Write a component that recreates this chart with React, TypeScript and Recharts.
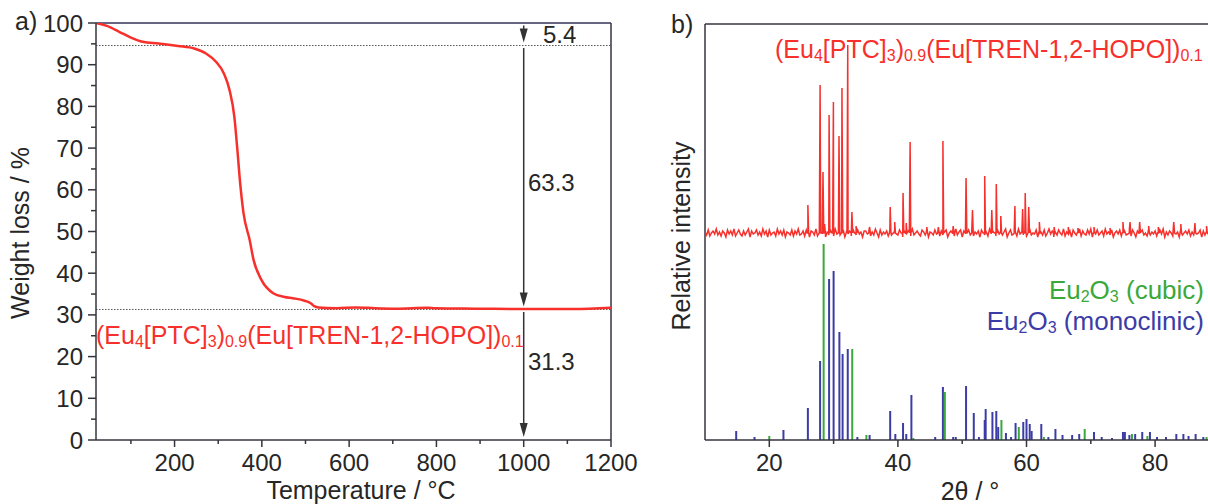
import React from 'react';
import { LineChart, ComposedChart, Line, XAxis, YAxis, ReferenceLine } from 'recharts';

const FONT = "'Liberation Sans', Arial, Helvetica, sans-serif";
const AXIS = '#34343c';
const TEXT = '#262626';
const RED = '#f7302c';
const GREEN = '#3aa83a';
const BLUE = '#3c3ca6';

// ---------- Panel a: TGA ----------
const tgaTemp = [20, 45, 73, 100, 127, 163, 208, 245, 272, 295, 313, 326, 337, 344, 349, 358, 372, 381, 399, 426, 452, 471, 498, 512, 520, 530, 571, 616, 660, 707, 780, 797, 888, 1014, 1114, 1200];
const tgaWeight = [100, 99.3, 97.9, 96.5, 95.5, 95.1, 94.5, 93.9, 92.7, 90.7, 87.9, 83.9, 77.5, 69.5, 63.1, 54.4, 48.0, 43.2, 38.4, 35.2, 34.3, 34.0, 33.4, 32.8, 32.1, 31.8, 31.6, 31.8, 31.6, 31.5, 31.7, 31.6, 31.5, 31.4, 31.4, 31.7];
const tgaXTicks = [100, 200, 300, 400, 500, 600, 700, 800, 900, 1000, 1100, 1200];
const tgaXMajor = [200, 400, 600, 800, 1000, 1200];
const tgaYTicks = [0, 5, 10, 15, 20, 25, 30, 35, 40, 45, 50, 55, 60, 65, 70, 75, 80, 85, 90, 95, 100];
const tgaYMajor = [0, 10, 20, 30, 40, 50, 60, 70, 80, 90, 100];
const stepLevels = [94.6, 31.3];
const arrowX = 1000;
const arrowLevels = [100, 94.6, 31.3, 0];
const stepLabels = ['5.4', '63.3', '31.3'];

// ---------- Panel b: XRD ----------
const xrdBase = 207;
const xrdNoiseStart = 10;
const xrdNoiseStep = 0.25;
const xrdNoise = [
  1, -2, 3, -3, 0, 2, -1, 4, -2, 1, -3, 2, 0, -4, 3, -1, 2, -2, 4, -3,
  0, 3, -1, -3, 2, -2, 1, 4, -4, 2, -1, 0, 3, -2, 1, -3, 4, -1, 2, -4,
  3, -2, 0, 1, -3, 4, -1, 2, -2, 3, -4, 1, 0, -2, 3, -3, 2, -1, 4, -2,
  -1, 2, -3, 3, 0, -4, 2, 1, -2, 4, -3, 0, 2, -1, 3, -4, 1, -2, 3, 0,
  -3, 4, -1, 2, -2, 0, 3, -4, 1, -1, 2, -3, 4, 0, -2, 3, -1, 1, -4, 2,
  2, -1, 3, -3, 1, -2, 4, 0, -4, 3, -2, 1, -1, 2, -3, 4, -2, 0, 3, -1,
  -2, 3, 0, -4, 2, -1, 1, 3, -3, 4, -2, 0, 2, -1, -3, 3, 1, -2, 4, -4,
  1, 0, -2, 3, -1, 4, -3, 2, -2, 1, 3, -4, 0, 2, -1, -3, 4, -2, 1, 3,
  -4, 2, -1, 0, 3, -2, 4, -3, 1, -1, 2, -4, 3, 0, -2, 1, -3, 4, -1, 2,
  0, -3, 3, -1, 2, -2, 1, 4, -4, 0, 3, -2, -1, 2, -3, 4, -1, 1, -2, 3,
  -3, 1, 4, -2, 0, -1, 3, -4, 2, 1, -2, 3, -3, 0, 4, -1, 2, -4, 1, -2,
  3, 0, -2, 4, -3, 1, -1, 2, -4, 3, 0, -2, 1, 4, -3, 2, -1, -2, 3, -1,
  4, -4, 1, -1, 3, -2, 0, 2, -3, 4, -1, 1, -2, 3, -4, 0, 2, -1, 3, -3,
  1, 2, -2, -1, 4, -3, 3, 0, -4, 2, -1, 1, 3, -2, 0, -3, 4, -2, 1, -1,
  2, -3, 0, 3, -1, 4, -4, 1, -2, 2, 0, -3, 3, -1, 1, -4, 4, -2, 0, 2,
  -1, 3, -3, 1, -2, 4, -1, 0, 3, -4, 2, -2, 1, -1, 3, -3, 0, 4, -2, 1,
  -2,
];
const redPeakPos = [26.0, 27.9, 28.35, 28.6, 29.3, 29.97, 30.84, 31.3, 32.2, 32.85, 33.5, 35.6, 38.8, 39.5, 40.8, 41.3, 41.9, 44.5, 46.3, 47.0, 48.6, 50.6, 51.6, 53.5, 54.6, 55.3, 56.0, 58.2, 59.4, 59.8, 60.35, 62.0, 64.3, 66.5, 68.0, 70.5, 73.0, 75.0, 76.1, 77.6, 79.0, 80.5, 82.9, 84.0, 86.2, 88.0];
const redPeakInt = [235, 355, 268, 216, 325, 338, 304, 352, 395, 228, 214, 213, 233, 218, 247, 217, 298, 213, 213, 299, 214, 262, 230, 264, 230, 256, 224, 234, 231, 247, 233, 218, 213, 213, 212, 213, 212, 218, 218, 218, 214, 213, 218, 216, 217, 214];
const bluePos = [14.85, 17.7, 22.2, 26.0, 27.9, 29.3, 30.0, 30.9, 31.4, 32.2, 33.7, 35.6, 38.8, 39.6, 40.8, 41.3, 42.1, 45.8, 47.0, 48.6, 49.0, 50.6, 51.8, 52.6, 53.5, 53.65, 54.7, 55.3, 55.6, 56.8, 57.6, 58.3, 59.5, 60.0, 60.5, 60.8, 62.3, 63.4, 64.5, 65.6, 67.1, 68.2, 70.5, 71.7, 73.3, 75.0, 75.3, 76.0, 76.9, 78.0, 79.2, 80.3, 81.7, 83.3, 84.4, 85.2, 86.3, 87.5];
const blueInt = [9, 3, 10, 32, 79, 161, 169, 108, 86, 91, 3, 5, 29, 6, 17, 6, 45, 3, 53, 3, 3, 54, 27, 3, 20, 31, 28, 29, 13, 7, 3, 17, 18, 21, 16, 9, 16, 3, 11, 5, 5, 6, 8, 3, 2, 8, 8, 5, 6, 8, 8, 3, 3, 6, 6, 4, 6, 3];
const greenPos = [20.0, 28.45, 32.9, 35.1, 42.4, 47.3, 56.1, 58.8, 62.7, 69.05, 76.4, 78.8, 88.0];
const greenInt = [4, 196, 91, 5, 2, 48, 20, 13, 3, 11, 6, 4, 3];
const xrdXTicks = [20, 30, 40, 50, 60, 70, 80];
const xrdXMajor = [20, 40, 60, 80];

const formulaParts = [
  { t: '(Eu' }, { t: '4', sub: true }, { t: '[PTC]' }, { t: '3', sub: true }, { t: ')' }, { t: '0.9', sub: true },
  { t: '(Eu[TREN-1,2-HOPO])' }, { t: '0.1', sub: true },
];
const cubicParts = [{ t: 'Eu' }, { t: '2', sub: true }, { t: 'O' }, { t: '3', sub: true }, { t: ' (cubic)' }];
const monoParts = [{ t: 'Eu' }, { t: '2', sub: true }, { t: 'O' }, { t: '3', sub: true }, { t: ' (monoclinic)' }];

// ---------- derived tables ----------
const tgaData = tgaTemp.map((t, i) => ({ t, w: tgaWeight[i] }));
const redData = [
  ...xrdNoise.map((n, i) => ({ x: xrdNoiseStart + i * xrdNoiseStep, y: xrdBase + n })),
  ...redPeakPos.flatMap((p, i) => [
    { x: p - 0.12, y: xrdBase },
    { x: p, y: redPeakInt[i] },
    { x: p + 0.12, y: xrdBase },
  ]),
].sort((a, b) => a.x - b.x);

const Formula = ({ x, y, parts, fill, size, subSize, anchor }: any) => {
  let prevSub = false;
  return (
    <text x={x} y={y} fill={fill} fontSize={size} fontFamily={FONT} textAnchor={anchor || 'start'}>
      {parts.map((p: any, i: number) => {
        const dy = p.sub ? (prevSub ? 0 : 3) : prevSub ? -3 : 0;
        prevSub = !!p.sub;
        return (
          <tspan key={i} dy={dy} fontSize={p.sub ? subSize : size}>
            {p.t}
          </tspan>
        );
      })}
    </text>
  );
};

const makeXTick = (majors: number[]) => (props: any) => {
  const { x, y, payload } = props;
  const major = majors.includes(payload.value);
  return (
    <g>
      <line x1={x} y1={y} x2={x} y2={y + (major ? 7 : 4)} stroke={AXIS} strokeWidth={1.5} />
      {major && (
        <text x={x} y={y + 30.5} textAnchor="middle" fontSize={24} fill={TEXT} fontFamily={FONT}>
          {payload.value}
        </text>
      )}
    </g>
  );
};

const makeYTick = (majors: number[]) => (props: any) => {
  const { x, y, payload } = props;
  const major = majors.includes(payload.value);
  return (
    <g>
      <line x1={x - (major ? 8 : 5)} y1={y} x2={x} y2={y} stroke={AXIS} strokeWidth={1.5} />
      {major && (
        <text x={x - 13} y={y + 8.5} textAnchor="end" fontSize={24} fill={TEXT} fontFamily={FONT}>
          {payload.value}
        </text>
      )}
    </g>
  );
};

const ArrowShape = (props: any) => {
  const { x1, y1, y2 } = props;
  const tip = y2 - 3;
  const start = y1 + 2.5;
  return (
    <g>
      <line x1={x1} y1={start} x2={x1} y2={tip - 10} stroke="#333" strokeWidth={1.5} />
      <polygon points={`${x1},${tip} ${x1 - 4},${tip - 14} ${x1 + 4},${tip - 14}`} fill="#333" />
    </g>
  );
};

export default function App() {
  return (
    <div style={{ position: 'absolute', left: 0, top: 0, width: 1208, height: 504, overflow: 'hidden', background: '#fff' }}>
      <div style={{ position: 'absolute', left: 0, top: 0 }}>
        <LineChart width={640} height={504} data={tgaData} margin={{ top: 23, right: 29, bottom: 0, left: 0 }}>
          <XAxis
            dataKey="t"
            type="number"
            domain={[20, 1200]}
            allowDataOverflow
            ticks={tgaXTicks}
            interval={0}
            height={64}
            tickSize={0}
            tickMargin={0}
            tickLine={false}
            axisLine={{ stroke: AXIS, strokeWidth: 1.5 }}
            tick={makeXTick(tgaXMajor)}
          />
          <YAxis
            type="number"
            domain={[0, 100]}
            allowDataOverflow
            ticks={tgaYTicks}
            interval={0}
            width={96}
            tickSize={0}
            tickMargin={0}
            tickLine={false}
            axisLine={{ stroke: AXIS, strokeWidth: 1.5 }}
            tick={makeYTick(tgaYMajor)}
          />
          <ReferenceLine y={100} stroke="#33335a" strokeWidth={1.5} />
          <ReferenceLine x={1200} stroke={AXIS} strokeWidth={1.5} />
          {stepLevels.map((v) => (
            <ReferenceLine key={v} y={v} stroke="#555" strokeWidth={1} strokeDasharray="1.5 1.5" />
          ))}
          {arrowLevels.slice(0, -1).map((v, i) => (
            <ReferenceLine
              key={i}
              segment={[{ x: arrowX, y: v }, { x: arrowX, y: arrowLevels[i + 1] }]}
              shape={ArrowShape}
            />
          ))}
          <Line type="monotone" dataKey="w" stroke={RED} strokeWidth={2.5} dot={false} isAnimationActive={false} />
        </LineChart>
      </div>

      <div style={{ position: 'absolute', left: 640, top: 0 }}>
        <ComposedChart width={600} height={504} data={redData} margin={{ top: 24, right: 20.6, bottom: 0, left: 65 }}>
          <XAxis
            dataKey="x"
            type="number"
            domain={[10, 90]}
            allowDataOverflow
            ticks={xrdXTicks}
            interval={0}
            height={64}
            tickSize={0}
            tickMargin={0}
            tickLine={false}
            axisLine={{ stroke: AXIS, strokeWidth: 1.5 }}
            tick={makeXTick(xrdXMajor)}
          />
          <YAxis type="number" domain={[0, 416]} allowDataOverflow hide />
          <ReferenceLine y={416} stroke={AXIS} strokeWidth={1.5} />
          <ReferenceLine x={10} stroke={AXIS} strokeWidth={1.5} />
          {bluePos.map((p, i) => (
            <ReferenceLine key={'b' + i} segment={[{ x: p, y: 0 }, { x: p, y: blueInt[i] }]} stroke={BLUE} strokeWidth={2} />
          ))}
          {greenPos.map((p, i) => (
            <ReferenceLine key={'g' + i} segment={[{ x: p, y: 0 }, { x: p, y: greenInt[i] }]} stroke={GREEN} strokeWidth={2} />
          ))}
          <Line type="linear" dataKey="y" stroke={RED} strokeWidth={1.5} dot={false} isAnimationActive={false} />
        </ComposedChart>
      </div>

      <svg width={1208} height={504} style={{ position: 'absolute', left: 0, top: 0, pointerEvents: 'none' }}>
        <text x={15} y={30} fontSize={25} fill={TEXT} fontFamily={FONT}>a)</text>
        <text x={671} y={33} fontSize={25} fill={TEXT} fontFamily={FONT}>b)</text>
        <text transform="translate(29,233) rotate(-90)" textAnchor="middle" fontSize={25} fill={TEXT} fontFamily={FONT}>
          Weight loss / %
        </text>
        <text transform="translate(690,236) rotate(-90)" textAnchor="middle" fontSize={25} fill={TEXT} fontFamily={FONT}>
          Relative intensity
        </text>
        <text x={361} y={499} textAnchor="middle" fontSize={25} fill={TEXT} fontFamily={FONT}>Temperature / °C</text>
        <text x={970} y={500} textAnchor="middle" fontSize={25} fill={TEXT} fontFamily={FONT}>2θ / °</text>
        <text x={543} y={43} fontSize={24} fill={TEXT} fontFamily={FONT}>{stepLabels[0]}</text>
        <text x={528} y={191} fontSize={24} fill={TEXT} fontFamily={FONT}>{stepLabels[1]}</text>
        <text x={528} y={370} fontSize={24} fill={TEXT} fontFamily={FONT}>{stepLabels[2]}</text>
        <Formula x={96} y={344} parts={formulaParts} fill={RED} size={25} subSize={16} />
        <Formula x={775} y={58} parts={formulaParts} fill={RED} size={25} subSize={16} />
        <Formula x={1204} y={299} parts={cubicParts} fill={GREEN} size={26} subSize={16} anchor="end" />
        <Formula x={1204} y={330} parts={monoParts} fill={BLUE} size={26} subSize={16} anchor="end" />
      </svg>
    </div>
  );
}
